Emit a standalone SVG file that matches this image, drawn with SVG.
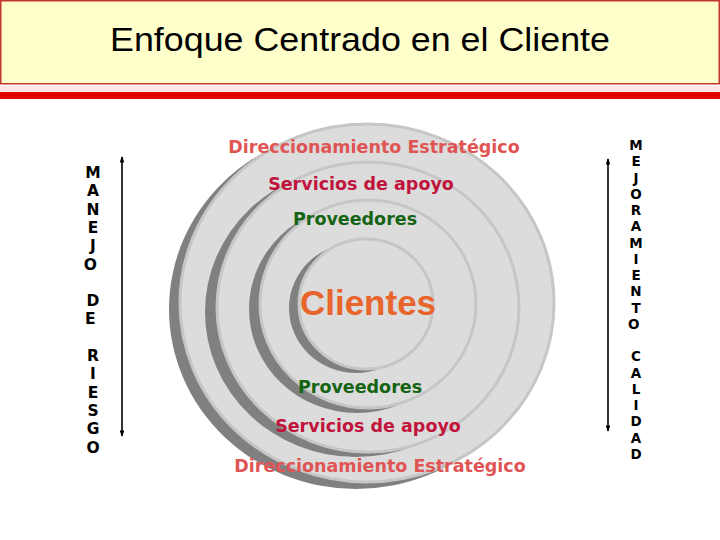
<svg xmlns="http://www.w3.org/2000/svg" width="720" height="540" viewBox="0 0 720 540">
<style>
.shadow{fill:#808080}
.ring{fill:#dcdcdc;stroke:#c6c6c6;stroke-width:3}
.lbl{font-family:"DejaVu Sans",Verdana,sans-serif;font-weight:bold;font-size:17.5px;text-anchor:middle}
.dir{fill:#e05454}
.srv{fill:#c0143c}
.prv{fill:#146414}
.vert{font-family:"DejaVu Sans",Verdana,sans-serif;font-weight:bold;font-size:15.5px;text-anchor:middle;fill:#000}
.arrow{stroke:#000;stroke-width:1.6;fill:none;marker-start:url(#ah);marker-end:url(#ah)}
</style>
<defs>
<marker id="ah" viewBox="0 0 8 6" refX="7" refY="3" markerWidth="4" markerHeight="3" orient="auto-start-reverse" markerUnits="strokeWidth">
<path d="M0,0 L8,3 L0,6 z" fill="#000"/>
</marker>
</defs>
<rect width="720" height="540" fill="#fff"/>
<g id="header">
<rect x="0.75" y="0.75" width="718.5" height="83" fill="#ffffcc" stroke="#c0392b" stroke-width="1.5"/>
<text x="360" y="51" font-family="'Liberation Sans',Arial,sans-serif" font-size="34" text-anchor="middle" fill="#000" textLength="500" lengthAdjust="spacingAndGlyphs">Enfoque Centrado en el Cliente</text>
<rect x="0" y="86" width="720" height="6" fill="#fde6e6"/>
<rect x="0" y="92" width="720" height="7" fill="#e00000"/>
</g>
<g id="ring-direccionamiento">
<ellipse class="shadow" cx="356" cy="309" rx="187" ry="180"/>
<ellipse class="ring" cx="367" cy="303" rx="187" ry="179"/>
</g>
<g id="ring-servicios">
<ellipse class="shadow" cx="356" cy="312" rx="151" ry="145"/>
<ellipse class="ring" cx="368" cy="307" rx="151" ry="145"/>
</g>
<g id="ring-proveedores">
<ellipse class="shadow" cx="357" cy="309" rx="108" ry="104"/>
<ellipse class="ring" cx="368" cy="304" rx="108" ry="104"/>
</g>
<g id="ring-clientes">
<ellipse class="shadow" cx="356" cy="308" rx="67" ry="65"/>
<ellipse class="ring" cx="366" cy="304" rx="67" ry="65"/>
</g>
<g id="labels">
<text class="lbl dir" x="374" y="153">Direccionamiento Estratégico</text>
<text class="lbl srv" x="361" y="190">Servicios de apoyo</text>
<text class="lbl prv" x="355" y="225">Proveedores</text>
<text x="368" y="315" font-family="'Liberation Sans',Arial,sans-serif" font-weight="bold" font-size="35" text-anchor="middle" fill="#e8652c">Clientes</text>
<text class="lbl prv" x="360" y="393">Proveedores</text>
<text class="lbl srv" x="368" y="432">Servicios de apoyo</text>
<text class="lbl dir" x="380" y="472">Direccionamiento Estratégico</text>
</g>
<g id="manejo-de-riesgo">
<text class="vert">
<tspan x="93" y="178">M</tspan><tspan x="93" y="196.3">A</tspan><tspan x="93" y="214.6">N</tspan><tspan x="93" y="232.9">E</tspan><tspan x="93" y="251.2">J</tspan><tspan x="93" y="269.5">O</tspan>
<tspan x="93" y="306.1">D</tspan><tspan x="93" y="324.4">E</tspan>
<tspan x="93" y="361">R</tspan><tspan x="93" y="379.3">I</tspan><tspan x="93" y="397.6">E</tspan><tspan x="93" y="415.9">S</tspan><tspan x="93" y="434.2">G</tspan><tspan x="93" y="452.5">O</tspan>
</text>
</g>
<g id="mejoramiento-calidad">
<text class="vert" style="font-size:13.5px">
<tspan x="636" y="150">M</tspan><tspan x="636" y="166.3">E</tspan><tspan x="636" y="182.5">J</tspan><tspan x="636" y="198.8">O</tspan><tspan x="636" y="215">R</tspan><tspan x="636" y="231.3">A</tspan><tspan x="636" y="247.6">M</tspan><tspan x="636" y="263.8">I</tspan><tspan x="636" y="280.1">E</tspan><tspan x="636" y="296.3">N</tspan><tspan x="636" y="312.6">T</tspan><tspan x="636" y="328.9">O</tspan>
<tspan x="636" y="361.4">C</tspan><tspan x="636" y="377.6">A</tspan><tspan x="636" y="393.9">L</tspan><tspan x="636" y="410.2">I</tspan><tspan x="636" y="426.4">D</tspan><tspan x="636" y="442.7">A</tspan><tspan x="636" y="458.9">D</tspan>
</text>
</g>
<g id="connectors">
<line class="arrow" x1="122" y1="157" x2="122" y2="436"/>
<line class="arrow" x1="608" y1="159" x2="608" y2="431"/>
</g>
</svg>
